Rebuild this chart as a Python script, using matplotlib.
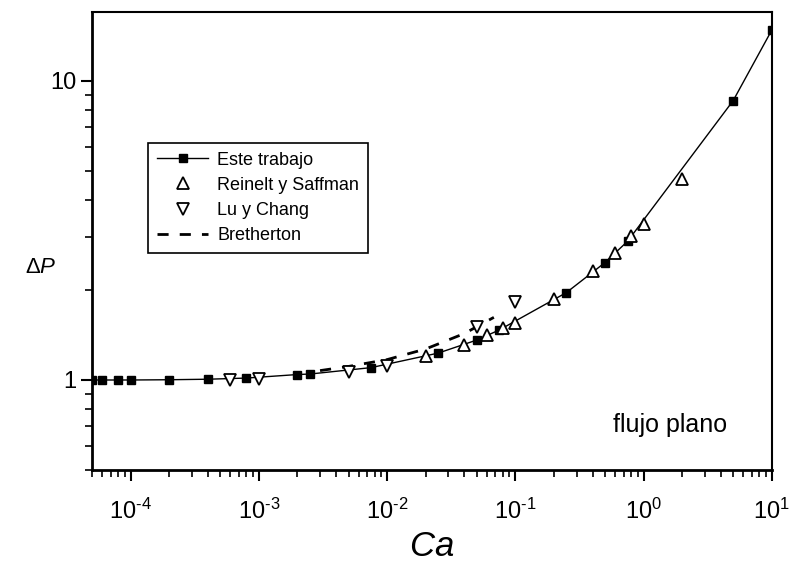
import matplotlib
matplotlib.use("Agg")
import matplotlib.pyplot as plt
from matplotlib.ticker import LogLocator, FixedLocator, NullFormatter, FixedFormatter

plt.rcParams['font.family'] = ['Liberation Sans', 'DejaVu Sans']
plt.rcParams['mathtext.fontset'] = 'custom'
plt.rcParams['mathtext.rm'] = 'Liberation Sans'
plt.rcParams['mathtext.it'] = 'Liberation Sans:italic'

# Este trabajo (cuadrados llenos)
este_ca = [5e-5, 6e-5, 8e-5, 1e-4, 2e-4, 4e-4, 8e-4, 2e-3, 2.5e-3, 7.5e-3,
           0.025, 0.05, 0.075, 0.25, 0.5, 0.75, 5, 10]
este_dp = [1.0, 1.0, 1.0, 1.0, 1.002, 1.006, 1.015, 1.043, 1.047, 1.10,
           1.23, 1.36, 1.47, 1.96, 2.47, 2.91, 8.6, 14.8]

# Reinelt y Saffman (triangulos)
rs_ca = [0.02, 0.04, 0.06, 0.08, 0.1, 0.2, 0.4, 0.6, 0.8, 1.0, 2.0]
rs_dp = [1.20, 1.31, 1.41, 1.49, 1.55, 1.87, 2.31, 2.66, 3.02, 3.32, 4.7]

# Lu y Chang (triangulos invertidos)
lc_ca = [6e-4, 1e-3, 5e-3, 0.01, 0.05, 0.1]
lc_dp = [0.997, 1.01, 1.065, 1.11, 1.50, 1.83]

# Bretherton (linea discontinua)
br_ca = [0.003, 0.005, 0.01, 0.02, 0.04, 0.068]
br_dp = [1.075, 1.11, 1.17, 1.27, 1.43, 1.62]

xtick_vals = [1e-4, 1e-3, 1e-2, 1e-1, 1e0, 1e1]
xtick_txt = [r'$10^{\text{-}4}$', r'$10^{\text{-}3}$', r'$10^{\text{-}2}$',
             r'$10^{\text{-}1}$', r'$10^{0}$', r'$10^{1}$']
ytick_vals = [1, 10]
ytick_txt = ['1', '10']

fig = plt.figure(figsize=(7.9, 5.7), dpi=100)
ax = fig.add_axes([0.1165, 0.1754, 0.8605, 0.8035])

ax.plot(este_ca, este_dp, color='black', lw=1.0, marker='s', ms=6,
        mfc='black', mec='black', label='Este trabajo', zorder=3)
ax.plot(rs_ca, rs_dp, ls='none', marker='^', ms=8, mfc='white',
        mec='black', mew=1.3, label='Reinelt y Saffman', zorder=4)
ax.plot(lc_ca, lc_dp, ls='none', marker='v', ms=8, mfc='white',
        mec='black', mew=1.3, label='Lu y Chang', zorder=4)
ax.plot(br_ca, br_dp, color='black', lw=2.0, ls=(0, (4, 4)),
        label='Bretherton', zorder=2)

ax.set_xscale('log')
ax.set_yscale('log')
ax.set_xlim(5e-5, 10)
ax.set_ylim(0.5, 17)

ax.xaxis.set_major_locator(FixedLocator(xtick_vals))
ax.xaxis.set_major_formatter(FixedFormatter(xtick_txt))
ax.xaxis.set_minor_locator(LogLocator(base=10, subs=range(2, 10), numticks=20))
ax.xaxis.set_minor_formatter(NullFormatter())
ax.yaxis.set_major_locator(FixedLocator(ytick_vals))
ax.yaxis.set_major_formatter(FixedFormatter(ytick_txt))
ax.yaxis.set_minor_locator(LogLocator(base=10, subs=range(2, 10), numticks=20))
ax.yaxis.set_minor_formatter(NullFormatter())

ax.tick_params(which='major', direction='out', length=8, width=1.5,
               labelsize=17, top=False, right=False)
ax.tick_params(which='minor', direction='out', length=5, width=1.2,
               top=False, right=False)
ax.tick_params(axis='x', which='major', pad=13)

for s in ax.spines.values():
    s.set_linewidth(1.5)
ax.spines['left'].set_linewidth(2)
ax.spines['bottom'].set_linewidth(2)

ax.set_xlabel(r'$Ca$', fontsize=25)
ax.xaxis.set_label_coords(0.5, -0.13)
ax.set_ylabel(r'$\Delta P$', fontsize=16, rotation=0)
ax.yaxis.set_label_coords(-0.076, 0.42)

ax.text(0.850, 0.098, 'flujo plano', transform=ax.transAxes,
        fontsize=18, ha='center', va='center')

leg = ax.legend(loc='upper left', bbox_to_anchor=(0.083, 0.715),
                borderaxespad=0, fontsize=13, frameon=True, fancybox=False,
                framealpha=1, edgecolor='black', handlelength=2.8,
                handletextpad=0.5, borderpad=0.5, labelspacing=0.45)
leg.get_frame().set_linewidth(1.2)

fig.savefig('out.png', dpi=100)
